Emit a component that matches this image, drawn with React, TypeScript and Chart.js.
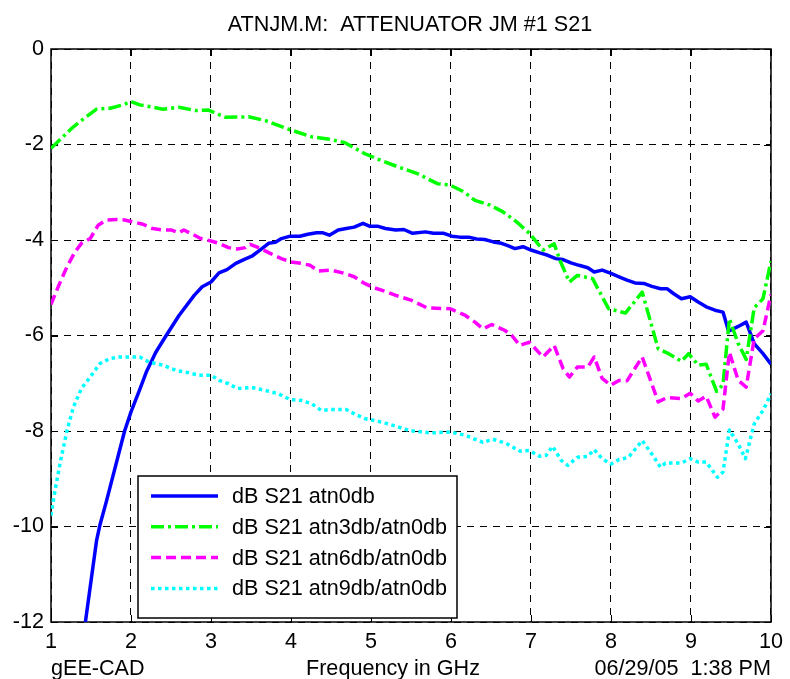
import { useEffect, useRef } from 'react';
import { Chart, registerables } from 'chart.js';

Chart.register(...registerables);

const TITLE = 'ATNJM.M:  ATTENUATOR JM #1 S21';
const X_LABEL = 'Frequency in GHz';
const LEFT_NOTE = 'gEE-CAD';
const RIGHT_NOTE = '06/29/05  1:38 PM';

const X_TICKS = [1, 2, 3, 4, 5, 6, 7, 8, 9, 10];
const Y_TICKS = [0, -2, -4, -6, -8, -10, -12];

const SERIES_LABELS = [
  'dB S21 atn0db',
  'dB S21 atn3db/atn0db',
  'dB S21 atn6db/atn0db',
  'dB S21 atn9db/atn0db',
];

// dB S21 atn0db
const ATN0_FREQ = [
  1.43, 1.57, 1.61, 1.69, 1.77, 1.92, 2.0, 2.11, 2.19, 2.31, 2.44, 2.6, 2.79, 2.89, 3.0,
  3.1, 3.2, 3.31, 3.41, 3.51, 3.62, 3.72, 3.8, 3.88, 3.99, 4.11, 4.21, 4.32, 4.4, 4.48,
  4.59, 4.69, 4.79, 4.9, 4.98, 5.08, 5.18, 5.31, 5.41, 5.52, 5.68, 5.78, 5.91, 6.01, 6.11,
  6.22, 6.32, 6.42, 6.53, 6.63, 6.71, 6.8, 6.9, 7.0, 7.11, 7.21, 7.31, 7.4, 7.5, 7.6,
  7.71, 7.79, 7.89, 8.0, 8.1, 8.2, 8.3, 8.41, 8.51, 8.62, 8.7, 8.78, 8.88, 8.99, 9.09,
  9.19, 9.3, 9.4, 9.47, 9.59, 9.69, 9.79, 9.9, 10.0,
];
const ATN0_DB = [
  -12.0, -10.29, -9.98, -9.49, -8.97, -8.0, -7.6, -7.13, -6.77, -6.35, -6.0, -5.58, -5.16, -4.98, -4.88,
  -4.69, -4.62, -4.49, -4.41, -4.34, -4.2, -4.07, -4.05, -3.97, -3.92, -3.92, -3.88, -3.85, -3.85, -3.9,
  -3.79, -3.76, -3.73, -3.65, -3.71, -3.71, -3.76, -3.79, -3.78, -3.86, -3.83, -3.86, -3.86, -3.92, -3.94,
  -3.94, -3.98, -3.99, -4.04, -4.07, -4.12, -4.18, -4.14, -4.21, -4.27, -4.32, -4.39, -4.41, -4.48, -4.53,
  -4.58, -4.67, -4.63, -4.7, -4.77, -4.84, -4.9, -4.91, -4.97, -5.02, -5.02, -5.12, -5.23, -5.19, -5.3,
  -5.4, -5.47, -5.51, -5.91, -5.81, -5.72, -6.17, -6.38, -6.6,
];

// dB S21 atn3db/atn0db
const ATN3_FREQ = [
  1.0, 1.26, 1.36, 1.57, 1.74, 1.9, 2.0, 2.11, 2.4, 2.6, 2.81, 2.97, 3.18, 3.47, 3.68,
  3.97, 4.26, 4.48, 4.67, 4.92, 5.12, 5.31, 5.58, 5.83, 5.99, 6.16, 6.3, 6.49, 6.65, 6.82,
  6.98, 7.15, 7.29, 7.36, 7.48, 7.58, 7.77, 7.97, 8.18, 8.39, 8.59, 8.72, 8.88, 8.97, 9.09,
  9.19, 9.32, 9.4, 9.48, 9.59, 9.69, 9.79, 9.9, 10.0,
];
const ATN3_DB = [
  -2.08, -1.66, -1.52, -1.26, -1.24, -1.17, -1.1, -1.17, -1.26, -1.22, -1.29, -1.28, -1.43, -1.42, -1.5,
  -1.68, -1.84, -1.89, -1.96, -2.19, -2.33, -2.45, -2.61, -2.82, -2.85, -2.99, -3.17, -3.27, -3.41, -3.62,
  -3.86, -4.21, -4.08, -4.42, -4.88, -4.74, -4.81, -5.44, -5.53, -5.09, -6.28, -6.38, -6.54, -6.38, -6.62,
  -6.6, -7.17, -7.03, -5.65, -6.17, -6.5, -5.42, -5.23, -4.44,
];

// dB S21 atn6db/atn0db
const ATN6_FREQ = [
  1.0, 1.09, 1.2, 1.3, 1.38, 1.49, 1.59, 1.69, 1.82, 1.92, 2.02, 2.15, 2.27, 2.4, 2.5,
  2.6, 2.66, 2.77, 2.87, 3.0, 3.1, 3.22, 3.33, 3.43, 3.49, 3.62, 3.74, 3.88, 3.99, 4.13,
  4.24, 4.34, 4.5, 4.67, 4.79, 4.92, 5.04, 5.17, 5.31, 5.5, 5.7, 5.99, 6.18, 6.3, 6.4,
  6.51, 6.67, 6.76, 6.86, 6.98, 7.15, 7.29, 7.4, 7.48, 7.58, 7.71, 7.79, 7.89, 8.0, 8.1,
  8.2, 8.39, 8.59, 8.7, 8.88, 8.99, 9.09, 9.19, 9.3, 9.4, 9.48, 9.59, 9.69, 9.79, 9.9,
  10.0,
];
const ATN6_DB = [
  -5.35, -4.98, -4.56, -4.25, -4.07, -3.97, -3.69, -3.58, -3.57, -3.58, -3.62, -3.67, -3.76, -3.79, -3.79,
  -3.85, -3.79, -3.88, -3.97, -4.02, -4.07, -4.16, -4.19, -4.16, -4.09, -4.18, -4.28, -4.39, -4.46, -4.49,
  -4.53, -4.65, -4.63, -4.7, -4.77, -4.91, -5.0, -5.07, -5.16, -5.26, -5.42, -5.44, -5.58, -5.72, -5.86,
  -5.77, -5.89, -6.0, -6.21, -6.14, -6.45, -6.21, -6.69, -6.87, -6.66, -6.66, -6.45, -6.9, -7.04, -6.94,
  -6.95, -6.45, -7.39, -7.3, -7.32, -7.21, -7.37, -7.27, -7.71, -7.54, -6.35, -6.94, -7.08, -6.07, -5.9,
  -5.14,
];

// dB S21 atn9db/atn0db
const ATN9_FREQ = [
  1.0, 1.05, 1.12, 1.2, 1.28, 1.38, 1.49, 1.61, 1.74, 1.86, 2.0, 2.11, 2.23, 2.4, 2.56,
  2.69, 2.85, 3.0, 3.1, 3.22, 3.33, 3.51, 3.68, 3.84, 3.99, 4.13, 4.26, 4.38, 4.5, 4.69,
  4.79, 4.92, 5.04, 5.17, 5.31, 5.48, 5.74, 5.99, 6.18, 6.4, 6.52, 6.69, 6.86, 6.98, 7.11,
  7.19, 7.27, 7.38, 7.46, 7.58, 7.71, 7.79, 7.89, 8.0, 8.1, 8.22, 8.39, 8.51, 8.62, 8.68,
  8.88, 8.99, 9.09, 9.19, 9.33, 9.4, 9.48, 9.59, 9.68, 9.79, 9.9, 10.0,
];
const ATN9_DB = [
  -9.77, -9.25, -8.62, -7.99, -7.5, -7.11, -6.87, -6.59, -6.48, -6.45, -6.45, -6.45, -6.56, -6.62, -6.73,
  -6.77, -6.83, -6.83, -6.94, -7.01, -7.11, -7.09, -7.15, -7.22, -7.34, -7.36, -7.43, -7.57, -7.55, -7.55,
  -7.64, -7.74, -7.78, -7.83, -7.9, -7.99, -8.04, -8.02, -8.09, -8.24, -8.17, -8.26, -8.42, -8.41, -8.53,
  -8.51, -8.32, -8.62, -8.72, -8.55, -8.53, -8.39, -8.58, -8.69, -8.6, -8.55, -8.2, -8.48, -8.76, -8.67,
  -8.67, -8.58, -8.65, -8.65, -8.97, -8.86, -7.98, -8.27, -8.58, -7.85, -7.57, -7.22,
];

const FONT_FAMILY = '"Liberation Sans", Arial, Helvetica, sans-serif';
const FONT_SIZE = 21.6;

const toPoints = (xs: number[], ys: number[]) => xs.map((x, i) => ({ x, y: ys[i] }));

// Axes box, inward ticks, title, footer notes and the legend, drawn around the plot.
const decorations = {
  id: 'decorations',
  beforeDatasetsDraw(chart: any) {
    const { ctx, chartArea: a, scales } = chart;
    const tick = 7;
    ctx.save();
    ctx.strokeStyle = '#000';
    ctx.lineWidth = 1.5;
    ctx.setLineDash([]);
    ctx.strokeRect(a.left, a.top, a.right - a.left, a.bottom - a.top);
    ctx.lineWidth = 1;
    ctx.beginPath();
    X_TICKS.forEach((v) => {
      const px = Math.round(scales.x.getPixelForValue(v)) + 0.5;
      ctx.moveTo(px, a.bottom);
      ctx.lineTo(px, a.bottom - tick);
      ctx.moveTo(px, a.top);
      ctx.lineTo(px, a.top + tick);
    });
    Y_TICKS.forEach((v) => {
      const py = Math.round(scales.y.getPixelForValue(v)) + 0.5;
      ctx.moveTo(a.left, py);
      ctx.lineTo(a.left + tick, py);
      ctx.moveTo(a.right, py);
      ctx.lineTo(a.right - tick, py);
    });
    ctx.stroke();
    ctx.restore();
  },
  afterDatasetsDraw(chart: any) {
    const { ctx, chartArea: a } = chart;
    ctx.save();
    ctx.fillStyle = '#000';
    ctx.font = `${FONT_SIZE}px ${FONT_FAMILY}`;
    ctx.textBaseline = 'alphabetic';

    ctx.textAlign = 'center';
    ctx.fillText(TITLE, (a.left + a.right) / 2 - 1, 31);

    ctx.textAlign = 'left';
    ctx.fillText(LEFT_NOTE, a.left, 675);
    ctx.textAlign = 'center';
    ctx.fillText(X_LABEL, 393, 675);
    ctx.textAlign = 'right';
    ctx.fillText(RIGHT_NOTE, a.right, 675);

    // legend
    const lx = a.left + 87;
    const ly = a.top + 427;
    const lw = 319;
    const lh = 142;
    ctx.fillStyle = '#fff';
    ctx.fillRect(lx, ly, lw, lh);
    ctx.strokeStyle = '#000';
    ctx.lineWidth = 1.5;
    ctx.setLineDash([]);
    ctx.strokeRect(lx, ly, lw, lh);
    chart.data.datasets.forEach((ds: any, i: number) => {
      const cy = ly + 20 + i * 30.8;
      ctx.save();
      ctx.strokeStyle = ds.borderColor;
      ctx.lineWidth = ds.borderWidth;
      ctx.lineCap = 'butt';
      ctx.setLineDash(ds.borderDash || []);
      ctx.beginPath();
      ctx.moveTo(lx + 13, cy);
      ctx.lineTo(lx + 80, cy);
      ctx.stroke();
      ctx.restore();
      ctx.fillStyle = '#000';
      ctx.textAlign = 'left';
      ctx.textBaseline = 'middle';
      ctx.fillText(ds.label, lx + 94, cy + 1);
    });
    ctx.restore();
  },
};

export default function App() {
  const canvasRef = useRef<HTMLCanvasElement | null>(null);

  useEffect(() => {
    document.body.style.margin = '0';
    const canvas = canvasRef.current;
    if (!canvas) return;

    const lineBase = {
      pointRadius: 0,
      borderWidth: 3.5,
      tension: 0,
      fill: false,
      borderCapStyle: 'butt' as const,
      borderJoinStyle: 'round' as const,
      clip: 0,
    };

    const chart = new Chart(canvas, {
      type: 'line',
      data: {
        datasets: [
          { ...lineBase, label: SERIES_LABELS[0], data: toPoints(ATN0_FREQ, ATN0_DB), borderColor: '#0000ff', order: 4 },
          { ...lineBase, label: SERIES_LABELS[1], data: toPoints(ATN3_FREQ, ATN3_DB), borderColor: '#00ff00', borderDash: [13, 4, 3, 4], order: 3 },
          { ...lineBase, label: SERIES_LABELS[2], data: toPoints(ATN6_FREQ, ATN6_DB), borderColor: '#ff00ff', borderDash: [10, 5], order: 2 },
          { ...lineBase, label: SERIES_LABELS[3], data: toPoints(ATN9_FREQ, ATN9_DB), borderColor: '#00ffff', borderDash: [3.5, 3.5], order: 1 },
        ],
      },
      options: {
        responsive: false,
        animation: false,
        devicePixelRatio: 1,
        events: [],
        layout: { padding: { top: 49, right: 13, bottom: 0, left: 0 } },
        plugins: {
          legend: { display: false },
          tooltip: { enabled: false },
          title: { display: false },
        },
        scales: {
          x: {
            type: 'linear',
            min: 1,
            max: 10,
            afterBuildTicks: (s: any) => {
              s.ticks = X_TICKS.map((value) => ({ value }));
            },
            afterFit: (s: any) => {
              s.height = 57;
            },
            ticks: {
              color: '#000',
              font: { family: FONT_FAMILY, size: FONT_SIZE },
              padding: 7,
              maxRotation: 0,
              autoSkip: false,
            },
            grid: { color: '#000', lineWidth: 1, drawTicks: false },
            border: { display: false, dash: [7, 6] },
          },
          y: {
            type: 'linear',
            min: -12,
            max: 0,
            afterBuildTicks: (s: any) => {
              s.ticks = Y_TICKS.map((value) => ({ value }));
            },
            afterFit: (s: any) => {
              s.width = 51;
            },
            ticks: {
              color: '#000',
              font: { family: FONT_FAMILY, size: FONT_SIZE },
              padding: 7,
              autoSkip: false,
            },
            grid: { color: '#000', lineWidth: 1, drawTicks: false },
            border: { display: false, dash: [7, 6] },
          },
        },
      },
      plugins: [decorations],
    });

    return () => chart.destroy();
  }, []);

  return (
    <div style={{ width: 790, height: 679, background: '#fff' }}>
      <canvas ref={canvasRef} width={790} height={679} style={{ display: 'block' }} />
    </div>
  );
}
